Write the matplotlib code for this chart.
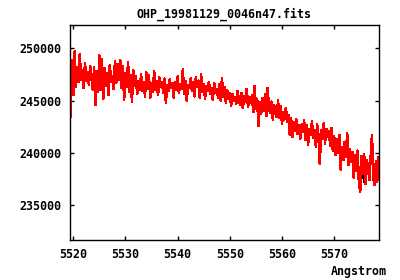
import numpy as np
import matplotlib
matplotlib.use("Agg")
import matplotlib.pyplot as plt

title = "OHP_19981129_0046n47.fits"
xlabel = "Angstrom"

# wavelength grid of the spectrum (Angstrom)
wave_start = 5519.25
wave_end = 5578.75

# flux, one row per 5 Angstrom
flux = [
    245200, 243400, 248900, 245500, 249700, 246300, 248200, 246800, 249400, 247000,
    247900, 246200, 248600, 246900, 247700, 246500, 248300, 247100, 246000, 248200,
    244600, 247800, 245800, 249300, 246000, 249000, 245200, 248100, 246400, 247600,
    245500, 248400, 246800, 247300, 246100, 248800, 246700, 248500, 247000, 248900,
    246200, 248300, 245100, 247600, 246300, 248700, 245800, 247400, 244900, 247900,
    246400, 247300, 245600, 246900, 246000, 247500, 245900, 246800, 245400, 247700,
    246100, 247400, 245300, 246700, 245800, 247800, 246000, 246900, 245500, 247200,
    246300, 246800, 245700, 247100, 244800, 246500, 245900, 247000, 246200, 246700,
    245300, 246800, 246000, 247300, 245700, 246600, 246100, 248000, 245600, 246900,
    245000, 246500, 246200, 247100, 245900, 246800, 245400, 247200, 246300, 246900,
    245300, 247500, 245800, 246600, 245200, 246400, 245900, 246800, 245600, 246200,
    245100, 246700, 245700, 246100, 245300, 246600, 245000, 247100, 245400, 246300,
    244800, 246000, 245200, 245700, 244500, 245600, 245000, 245300, 244700, 245900,
    245100, 244600, 245700, 244300, 245400, 244900, 246100, 244400, 245300, 244800,
    245500, 243900, 246400, 244200, 245100, 242600, 244800, 243700, 245200, 244000,
    245600, 243500, 246200, 244300, 243800, 244900, 243200, 244600, 244100, 243400,
    245000, 243300, 244500, 242800, 243900, 243200, 244300, 243000, 243600, 241700,
    243300, 241500, 242900, 242100, 243200, 241800, 242600, 241300, 242700, 242000,
    243100, 241200, 242600, 240800, 242300, 241700, 243000, 241400, 242200, 240600,
    242700, 241600, 238900, 242200, 241300, 242800, 240900, 242300, 241500, 242100,
    240700, 242400, 240200, 241600, 239800, 241300, 240000, 241700, 238400, 240500,
    239300, 241000, 239600, 241900, 238800, 240300, 239100, 240100, 237600, 239800,
    238300, 240200, 237100, 236300, 239700, 238000, 239900, 237000, 239300, 238600,
    237400, 239500, 241700, 237800, 236900, 239200, 237200, 239600, 238400,
]

# second (black) trace: same as the red one except where it peeks out below
black_idx = [226, 233]
black_val = [237300, 237600]

flux = np.array(flux, dtype=float)
wave = np.linspace(wave_start, wave_end, len(flux))
black = flux.copy()
black[black_idx] = black_val

fig = plt.figure(figsize=(4.0, 2.8), dpi=100)
ax = fig.add_axes([0.174, 0.143, 0.7735, 0.7665])

ax.plot(wave, black, color="black", lw=1.1, antialiased=False)
ax.plot(wave, flux, color="#ff0000", lw=1.1, antialiased=False)

ax.set_xlim(5519.3, 5578.6)
ax.set_ylim(231650, 252200)
ax.set_xticks([5520, 5530, 5540, 5550, 5560, 5570])
ax.set_yticks([235000, 240000, 245000, 250000])
ax.set_yticklabels(["235000", "240000", "245000", "250000"])

font = dict(family="DejaVu Sans Mono", weight="bold", size=8.4)
for lab in ax.get_xticklabels() + ax.get_yticklabels():
    lab.set_fontfamily(font["family"])
    lab.set_fontweight("bold")
    lab.set_fontsize(font["size"])

ax.tick_params(direction="in", length=3, width=1, top=True, right=True)
ax.tick_params(axis="both", pad=6)
for s in ax.spines.values():
    s.set_linewidth(1.0)

fig.text(0.56, 0.95, title, ha="center", va="center", **font)
fig.text(0.968, 0.032, xlabel, ha="right", va="center", **font)

fig.savefig("out.png", dpi=100)
